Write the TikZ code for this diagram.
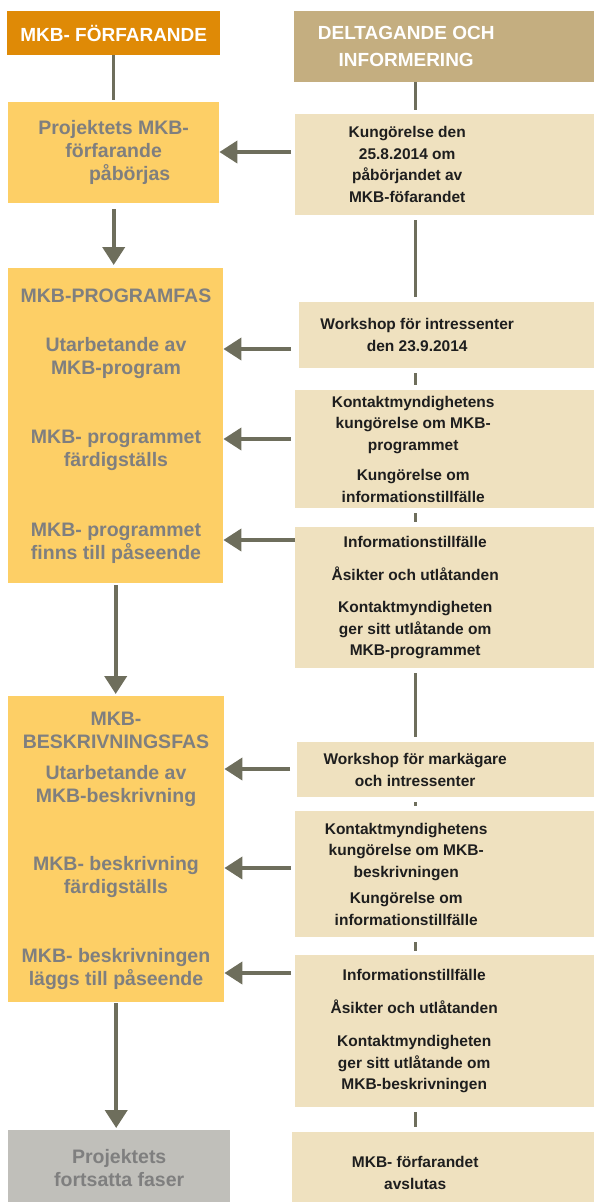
\documentclass[tikz,border=0pt]{standalone}
\usepackage{fontspec}
\setmainfont{Liberation Sans}
\usetikzlibrary{arrows.meta}
\definecolor{hdrorange}{RGB}{223,138,6}
\definecolor{hdrtan}{RGB}{196,174,128}
\definecolor{fasyellow}{RGB}{253,207,102}
\definecolor{infobeige}{RGB}{239,225,191}
\definecolor{restgray}{RGB}{192,191,186}
\definecolor{arrowgray}{RGB}{110,110,92}
\definecolor{fastext}{RGB}{127,127,127}
\definecolor{infotext}{RGB}{30,30,30}

\begin{document}
\begin{tikzpicture}[x=1pt,y=-1pt,
  hdr/.style={anchor=north west,inner sep=0pt,text=white,align=center,
    font=\fontsize{19}{27}\selectfont\bfseries},
  fasbox/.style={anchor=north west,inner sep=0pt,fill=fasyellow,text=fastext,align=center,
    font=\fontsize{19.5}{23}\selectfont\bfseries},
  fasitem/.style={inner sep=0pt,text=fastext,align=center,
    font=\fontsize{19.5}{23}\selectfont\bfseries},
  infobox/.style={anchor=north west,inner sep=0pt,fill=infobeige,minimum width=236pt,
    text=infotext,align=center,font=\fontsize{15.5}{21.5}\selectfont\bfseries},
  conn/.style={draw=arrowgray,line width=3pt,shorten <=5pt,shorten >=5pt},
  arr/.style={draw=arrowgray,line width=4pt,-{Triangle[length=18pt,width=22pt]}},
]
\useasboundingbox (0,0) rectangle (594,1202);

% column heads
\node[hdr,fill=hdrorange,minimum width=213pt,minimum height=44pt] (hforf) at (7,11) {MKB- FÖRFARANDE};
\node[hdr,fill=hdrtan,minimum width=224pt,minimum height=71pt] (hdelt) at (294,11) {DELTAGANDE OCH\\INFORMERING};

% left column
\node[fasbox,minimum width=211pt,minimum height=101pt] (start) at (8,102) {Projektets MKB-\\förfarande\\\hspace*{32pt}påbörjas};

\node[fasbox,minimum width=215pt,minimum height=315pt] (progfas) at (8,268) {};
\node[fasitem] (progtitle) at (116,296) {MKB-PROGRAMFAS};
\node[fasitem] (progutarb) at (116,358) {Utarbetande av\\MKB-program};
\node[fasitem] (progklar) at (116,450) {MKB- programmet\\färdigställs};
\node[fasitem] (progvisas) at (116,543) {MKB- programmet\\finns till påseende};

\node[fasbox,minimum width=216pt,minimum height=306pt] (beskfas) at (8,696) {};
\node[fasitem] (besktitle) at (116,730) {MKB-\\BESKRIVNINGSFAS};
\node[fasitem] (beskutarb) at (116,786) {Utarbetande av\\MKB-beskrivning};
\node[fasitem] (beskklar) at (116,877) {MKB- beskrivning\\färdigställs};
\node[fasitem] (beskvisas) at (116,969) {MKB- beskrivningen\\läggs till påseende};

\node[fasbox,fill=restgray,minimum width=222pt,minimum height=75pt] (fortsatt) at (8,1130) {Projektets\\fortsatta faser};

% right column
\node[infobox,minimum width=224pt,minimum height=101pt] (k1) at (295,114) {Kungörelse den\\25.8.2014 om\\påbörjandet av\\MKB-föfarandet};
\node[infobox,minimum height=66pt] (k2) at (299,302) {Workshop för intressenter\\den 23.9.2014};
\node[infobox,minimum height=118pt] (k3) at (295,390) {Kontaktmyndighetens\\kungörelse om MKB-\\programmet\\[9pt]Kungörelse om\\informationstillfälle};
\node[infobox,minimum width=240pt,minimum height=141pt] (k4) at (295,527) {Informationstillfälle\\[11pt]Åsikter och utlåtanden\\[11pt]Kontaktmyndigheten\\ger sitt utlåtande om\\MKB-programmet};
\node[infobox,minimum height=55pt] (k5) at (297,742) {Workshop för markägare\\och intressenter};
\node[infobox,minimum width=222pt,minimum height=126pt] (k6) at (295,811) {Kontaktmyndighetens\\kungörelse om MKB-\\beskrivningen\\[5pt]Kungörelse om\\informationstillfälle};
\node[infobox,minimum width=238pt,minimum height=152pt] (k7) at (295,955) {Informationstillfälle\\[11pt]Åsikter och utlåtanden\\[12pt]Kontaktmyndigheten\\ger sitt utlåtande om\\MKB-beskrivningen};
\node[infobox,minimum width=246pt,minimum height=81pt] (k8) at (292,1132) {MKB- förfarandet\\avslutas};

% right boxes run on past the page edge
\fill[hdrtan] ([xshift=-1pt]hdelt.north east) rectangle ([xshift=90pt]hdelt.south east);
\foreach \k in {k1,k2,k3,k4,k5,k6,k7,k8}
  \fill[infobeige] ([xshift=-1pt]\k.north east) rectangle ([xshift=90pt]\k.south east);

% connectors
\coordinate (rx) at (415,0);
\draw[conn,shorten <=0pt,shorten >=2pt] (hforf.south) -- (start.north);
\draw[conn,shorten <=0pt,shorten >=4pt] (hdelt.south -| rx) -- (k1.north -| rx);
\draw[conn] (k1.south -| rx) -- (k2.north -| rx);
\draw[conn] (k2.south -| rx) -- (k3.north -| rx);
\draw[conn] (k3.south -| rx) -- (k4.north -| rx);
\draw[conn] (k4.south -| rx) -- (k5.north -| rx);
\draw[conn] (k5.south -| rx) -- (k6.north -| rx);
\draw[conn,shorten >=4pt] (k6.south -| rx) -- (k7.north -| rx);
\draw[conn] (k7.south -| rx) -- (k8.north -| rx);

% arrows
\draw[arr,shorten <=6pt,shorten >=3pt] (start.south) -- (start.south |- progfas.north);
\draw[arr,shorten <=2pt,shorten >=2pt] (progfas.south) -- (progfas.south |- beskfas.north);
\draw[arr,shorten <=1pt,shorten >=2pt] (beskfas.south) -- (beskfas.south |- fortsatt.north);
\draw[arr,shorten <=4pt] (k1.west |- 0,152) -- (start.east |- 0,152);
\draw[arr,shorten <=8pt] (k2.west |- 0,349) -- (progfas.east |- 0,349);
\draw[arr,shorten <=4pt] (k3.west |- 0,439) -- (progfas.east |- 0,439);
\draw[arr] (k4.west |- 0,540) -- (progfas.east |- 0,540);
\draw[arr,shorten <=7pt] (k5.west |- 0,769) -- (beskfas.east |- 0,769);
\draw[arr,shorten <=4pt] (k6.west |- 0,868) -- (beskfas.east |- 0,868);
\draw[arr,shorten <=4pt] (k7.west |- 0,973) -- (beskfas.east |- 0,973);
\end{tikzpicture}
\end{document}
